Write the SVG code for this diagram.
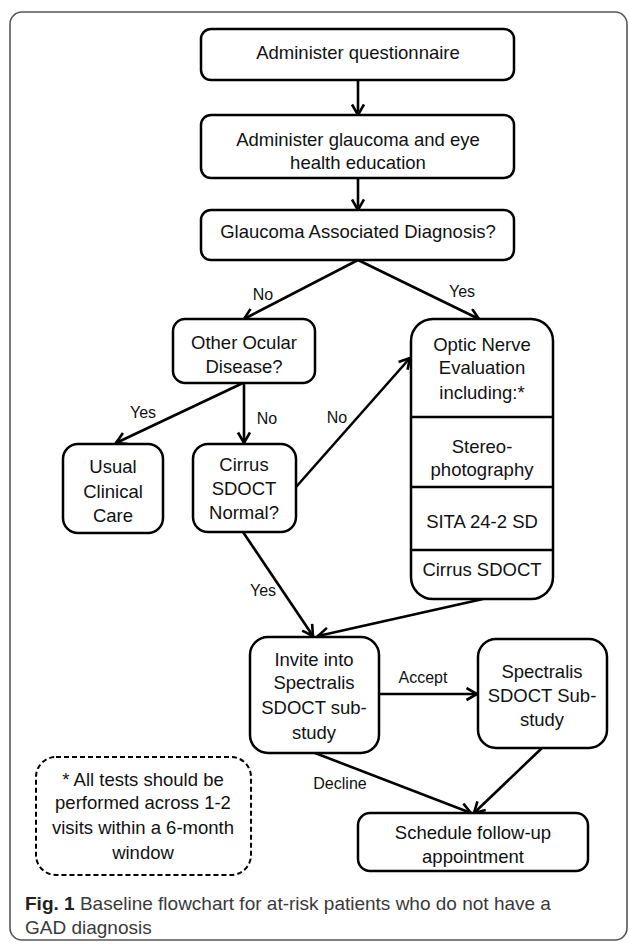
<svg xmlns="http://www.w3.org/2000/svg" width="629" height="946" viewBox="0 0 629 946">
<style>
.box{fill:#fff;stroke:#000;stroke-width:2.5}
.t{font-family:"Liberation Sans",Arial,sans-serif;font-size:18.5px;fill:#111;text-anchor:middle}
.lb{font-family:"Liberation Sans",Arial,sans-serif;font-size:16px;fill:#111;text-anchor:middle}
.c{stroke:#000;stroke-width:2.6;fill:none}
.cap{font-family:"Liberation Sans",Arial,sans-serif;font-size:19px;fill:#3a3a3a}
</style>
<defs>
<marker id="ah" markerUnits="userSpaceOnUse" markerWidth="16" markerHeight="16" viewBox="0 0 16 16" refX="12" refY="7" orient="auto">
<path d="M1.5,1 L12,7 L1.5,13" fill="none" stroke="#000" stroke-width="2.6" stroke-linejoin="miter"/>
</marker>
</defs>
<rect width="629" height="946" fill="#fff"/>
<rect id="frame" x="10" y="12" width="617" height="928" rx="12" fill="none" stroke="#555" stroke-width="1.6"/>

<g id="connectors">
<line class="c" x1="358" y1="80" x2="358" y2="115" marker-end="url(#ah)"/>
<line class="c" x1="358" y1="178" x2="358" y2="210" marker-end="url(#ah)"/>
<line class="c" x1="358" y1="260" x2="244" y2="319" marker-end="url(#ah)"/>
<line class="c" x1="358" y1="260" x2="479" y2="319" marker-end="url(#ah)"/>
<line class="c" x1="243" y1="383" x2="116" y2="443" marker-end="url(#ah)"/>
<line class="c" x1="244" y1="383" x2="244" y2="443" marker-end="url(#ah)"/>
<line class="c" x1="296" y1="487" x2="410" y2="358" marker-end="url(#ah)"/>
<line class="c" x1="243" y1="532" x2="313" y2="636" marker-end="url(#ah)"/>
<line class="c" x1="483" y1="599" x2="318" y2="636" marker-end="url(#ah)"/>
<line class="c" x1="379" y1="694" x2="477" y2="694" marker-end="url(#ah)"/>
<line class="c" x1="315" y1="753" x2="471" y2="813" marker-end="url(#ah)"/>
<line class="c" x1="542" y1="748" x2="474" y2="813" marker-end="url(#ah)"/>
<text class="lb" x="263" y="300">No</text>
<text class="lb" x="462" y="297">Yes</text>
<text class="lb" x="143" y="418">Yes</text>
<text class="lb" x="267" y="424">No</text>
<text class="lb" x="337" y="423">No</text>
<text class="lb" x="263" y="596">Yes</text>
<text class="lb" x="423" y="683">Accept</text>
<text class="lb" x="340" y="789">Decline</text>
</g>

<g id="questionnaire">
<rect class="box" x="201" y="29" width="313" height="51" rx="10"/>
<text class="t" x="358" y="59">Administer questionnaire</text>
</g>
<g id="education">
<rect class="box" x="201" y="115" width="313" height="63" rx="10"/>
<text class="t" x="358" y="146">Administer glaucoma and eye</text>
<text class="t" x="358" y="169">health education</text>
</g>
<g id="gad">
<rect class="box" x="201" y="210" width="313" height="50" rx="10"/>
<text class="t" x="358" y="238">Glaucoma Associated Diagnosis?</text>
</g>
<g id="ocular">
<rect class="box" x="173" y="319" width="142" height="64" rx="12"/>
<text class="t" x="244" y="349">Other Ocular</text>
<text class="t" x="244" y="373">Disease?</text>
</g>
<g id="usual">
<rect class="box" x="63" y="444" width="100" height="89" rx="15"/>
<text class="t" x="113" y="473">Usual</text>
<text class="t" x="113" y="498">Clinical</text>
<text class="t" x="113" y="522">Care</text>
</g>
<g id="cirrus">
<rect class="box" x="193" y="444" width="103" height="88" rx="15"/>
<text class="t" x="244" y="471">Cirrus</text>
<text class="t" x="244" y="495">SDOCT</text>
<text class="t" x="244" y="519">Normal?</text>
</g>
<g id="optic">
<rect class="box" x="411" y="319" width="142" height="280" rx="22"/>
<line class="c" x1="411" y1="417" x2="553" y2="417" stroke-width="2.2"/>
<line class="c" x1="411" y1="487" x2="553" y2="487" stroke-width="2.2"/>
<line class="c" x1="411" y1="550" x2="553" y2="550" stroke-width="2.2"/>
<text class="t" x="482" y="351">Optic Nerve</text>
<text class="t" x="482" y="374">Evaluation</text>
<text class="t" x="482" y="399">including:*</text>
<text class="t" x="482" y="453">Stereo-</text>
<text class="t" x="482" y="476">photography</text>
<text class="t" x="482" y="528">SITA 24-2 SD</text>
<text class="t" x="482" y="576">Cirrus SDOCT</text>
</g>
<g id="invite">
<rect class="box" x="250" y="637" width="129" height="116" rx="18"/>
<text class="t" x="314" y="666">Invite into</text>
<text class="t" x="314" y="689">Spectralis</text>
<text class="t" x="314" y="714">SDOCT sub-</text>
<text class="t" x="314" y="739">study</text>
</g>
<g id="spectralis">
<rect class="box" x="478" y="639" width="129" height="109" rx="18"/>
<text class="t" x="542" y="678">Spectralis</text>
<text class="t" x="542" y="702">SDOCT Sub-</text>
<text class="t" x="542" y="726">study</text>
</g>
<g id="schedule">
<rect class="box" x="358" y="813" width="230" height="58" rx="12"/>
<text class="t" x="473" y="839">Schedule follow-up</text>
<text class="t" x="473" y="863">appointment</text>
</g>
<g id="note">
<rect x="36" y="757" width="215" height="118" rx="20" fill="none" stroke="#000" stroke-width="2" stroke-dasharray="5,3"/>
<text class="t" x="143" y="786">* All tests should be</text>
<text class="t" x="143" y="809">performed across 1-2</text>
<text class="t" x="143" y="834">visits within a 6-month</text>
<text class="t" x="143" y="859">window</text>
</g>
<g id="caption">
<text class="cap" x="25" y="910"><tspan font-weight="bold" fill="#222">Fig. 1</tspan> Baseline flowchart for at-risk patients who do not have a</text>
<text class="cap" x="25" y="934">GAD diagnosis</text>
</g>
</svg>
